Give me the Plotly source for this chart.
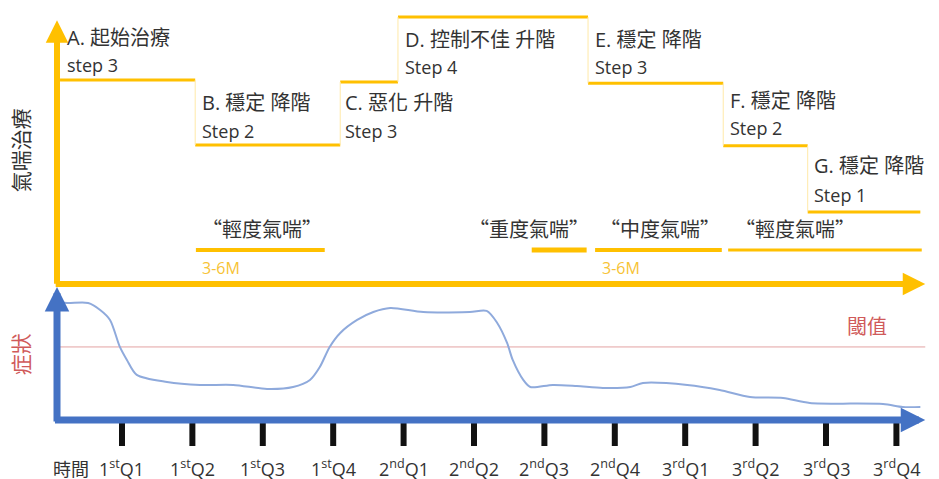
import plotly.graph_objects as go

# ---------------- data ----------------
quarters = list(range(1, 13))
quarter_labels = ["1<sup>st</sup>Q1", "1<sup>st</sup>Q2", "1<sup>st</sup>Q3", "1<sup>st</sup>Q4",
                  "2<sup>nd</sup>Q1", "2<sup>nd</sup>Q2", "2<sup>nd</sup>Q3", "2<sup>nd</sup>Q4",
                  "3<sup>rd</sup>Q1", "3<sup>rd</sup>Q2", "3<sup>rd</sup>Q3", "3<sup>rd</sup>Q4"]

# treatment steps (start quarter, end quarter, step level)
step_start = [0.12, 2.04, 4.10, 4.92, 7.62, 9.54, 10.74]
step_end = [2.04, 4.10, 4.92, 7.62, 9.54, 10.74, 12.34]
step_level = [3.03, 2.03, 3.0, 4.0, 2.98, 2.02, 1.0]
step_title = ["A. 起始治療", "B. 穩定 降階", "C. 惡化 升階", "D. 控制不佳 升階",
              "E. 穩定 降階", "F. 穩定 降階", "G. 穩定 降階"]
step_name = ["step 3", "Step 2", "Step 3", "Step 4", "Step 3", "Step 2", "Step 1"]
label_x = [0.19, 2.11, 4.14, 4.99, 7.69, 9.61, 10.80]
label_row1 = [3.69, 2.68, 2.68, 3.65, 3.65, 2.72, 1.72]
label_row2 = [3.26, 2.25, 2.25, 3.23, 3.23, 2.29, 1.26]

# severity periods
sev_label = ["“輕度氣喘”", "“重度氣喘”", "“中度氣喘”", "“輕度氣喘”"]
sev_start = [2.05, 6.82, 7.72, 9.61]
sev_end = [3.88, 7.60, 9.52, 12.36]
sev_center = [2.99, 6.78, 8.64, 10.56]
sev_width = [4, 5, 4, 3]
dur_label_x = [2.11, 7.79]
dur_label = ["3-6M", "3-6M"]

# symptom curve
sym_t = [0.12, 0.22, 0.52, 0.69, 0.83, 0.97, 1.07, 1.21, 1.64, 2.11, 2.58, 3.06, 3.43, 3.67,
         3.81, 3.95, 4.10, 4.34, 4.57, 4.81, 5.28, 5.94, 6.18, 6.33, 6.47, 6.55, 6.70, 6.80,
         7.12, 7.46, 7.83, 8.22, 8.40, 9.03, 9.49, 9.92, 10.39, 10.77, 11.81, 12.09, 12.34]
sym_v = [9.70, 9.61, 9.61, 9.04, 8.22, 6.00, 4.93, 3.70, 3.12, 2.88, 2.88, 2.55, 2.71, 3.29,
         4.35, 6.00, 7.15, 8.22, 8.87, 9.20, 8.87, 8.87, 8.96, 7.97, 6.33, 4.93, 3.29, 2.71,
         2.88, 2.79, 2.63, 2.71, 3.04, 2.88, 2.47, 1.89, 1.81, 1.40, 1.31, 1.07, 1.07]
threshold = 6.0

# ---------------- styling constants ----------------
YEL = "#FFC000"
BLUE = "#4472C4"
RED = "#D05A5A"
TXT = "#333333"
CJK = "Noto Sans CJK TC"
LAT = "Open Sans, Noto Sans CJK TC"

x0, x_tip = 0.077, 12.41
top_base, top_tip = -0.108, 3.95
bot_base, bot_tip = 0.0, 10.93
tick_top, tick_bot, tick_lab = -0.16, -2.14, -3.94

fig = go.Figure()

# step horizontal segments
for s, e, l in zip(step_start, step_end, step_level):
    fig.add_trace(go.Scatter(x=[s, e], y=[l, l], mode="lines",
                             line=dict(color=YEL, width=3), hoverinfo="skip"))
# faint vertical connectors
for i in range(1, len(step_start)):
    fig.add_trace(go.Scatter(x=[step_start[i], step_start[i]],
                             y=[step_level[i - 1], step_level[i]], mode="lines",
                             line=dict(color="#FFE9A8", width=1), hoverinfo="skip"))

# severity bars
for s, e, w in zip(sev_start, sev_end, sev_width):
    fig.add_trace(go.Scatter(x=[s, e], y=[0.415, 0.415], mode="lines",
                             line=dict(color=YEL, width=w), hoverinfo="skip"))

# threshold line
fig.add_trace(go.Scatter(x=[x0, x_tip], y=[threshold, threshold], yaxis="y2", mode="lines",
                         line=dict(color="#E3A3A3", width=1), hoverinfo="skip"))

# symptom curve
fig.add_trace(go.Scatter(x=sym_t, y=sym_v, yaxis="y2", mode="lines",
                         line=dict(color="#8FAADC", width=2, shape="spline", smoothing=0.8),
                         hoverinfo="skip"))

# ticks
tx, ty = [], []
for q in quarters:
    tx += [q, q, None]
    ty += [tick_top, tick_bot, None]
fig.add_trace(go.Scatter(x=tx, y=ty, yaxis="y2", mode="lines",
                         line=dict(color="#111111", width=6), hoverinfo="skip"))

ann = []
# axis arrows
ann.append(dict(x=x0, y=top_tip, ax=x0, ay=top_base - 0.02, xref="x", yref="y", axref="x", ayref="y",
                text="", showarrow=True, arrowhead=2, arrowsize=0.75, arrowwidth=6, arrowcolor=YEL, standoff=0))
ann.append(dict(x=x_tip, y=top_base, ax=x0 - 0.04, ay=top_base, xref="x", yref="y", axref="x", ayref="y",
                text="", showarrow=True, arrowhead=2, arrowsize=0.75, arrowwidth=6, arrowcolor=YEL, standoff=0))
ann.append(dict(x=x0, y=bot_tip, ax=x0, ay=bot_base - 0.25, xref="x", yref="y2", axref="x", ayref="y2",
                text="", showarrow=True, arrowhead=2, arrowsize=0.7, arrowwidth=7, arrowcolor=BLUE, standoff=0))
ann.append(dict(x=x_tip, y=bot_base, ax=x0 - 0.05, ay=bot_base, xref="x", yref="y2", axref="x", ayref="y2",
                text="", showarrow=True, arrowhead=2, arrowsize=0.7, arrowwidth=7, arrowcolor=BLUE, standoff=0))

# step labels
for x, r1, r2, t, n in zip(label_x, label_row1, label_row2, step_title, step_name):
    ann.append(dict(x=x, y=r1, xref="x", yref="y", text=t, showarrow=False, xanchor="left",
                    yanchor="middle", font=dict(family=LAT, size=20, color=TXT)))
    ann.append(dict(x=x, y=r2, xref="x", yref="y", text=n, showarrow=False, xanchor="left",
                    yanchor="middle", font=dict(family=LAT, size=18, color=TXT)))

# severity labels
for c, t in zip(sev_center, sev_label):
    ann.append(dict(x=c, y=0.739, xref="x", yref="y", text=t, showarrow=False, xanchor="center",
                    yanchor="middle", font=dict(family=CJK, size=20, color=TXT)))
for x, t in zip(dur_label_x, dur_label):
    ann.append(dict(x=x, y=0.139, xref="x", yref="y", text=t, showarrow=False, xanchor="left",
                    yanchor="middle", font=dict(family=LAT, size=16, color="#F7C335")))

# tick labels
for q, t in zip(quarters, quarter_labels):
    ann.append(dict(x=q, y=tick_lab, xref="x", yref="y2", text=t, showarrow=False, xanchor="center",
                    yanchor="middle", font=dict(family=LAT, size=18, color=TXT)))
ann.append(dict(x=0.27, y=tick_lab, xref="x", yref="y2", text="時間", showarrow=False, xanchor="center",
                yanchor="middle", font=dict(family=CJK, size=18, color=TXT)))

# axis titles
ann.append(dict(x=-0.45, y=1.95, xref="x", yref="y", text="氣喘治療", showarrow=False, textangle=-90,
                font=dict(family=CJK, size=21, color=TXT)))
ann.append(dict(x=-0.45, y=5.4, xref="x", yref="y2", text="症狀", showarrow=False, textangle=-90,
                font=dict(family=CJK, size=21, color=RED)))
ann.append(dict(x=11.58, y=7.8, xref="x", yref="y2", text="閾值", showarrow=False,
                font=dict(family=CJK, size=20, color=RED)))

# page body has an 8px margin: figure occupies window pixels 8..939 / 8..479
fig.update_layout(
    width=931, height=471,
    margin=dict(l=0, r=0, t=0, b=0),
    paper_bgcolor="white", plot_bgcolor="white",
    showlegend=False,
    xaxis=dict(range=[-0.619, 12.605], visible=False, fixedrange=True),
    yaxis=dict(range=[-3.108, 4.139], visible=False, fixedrange=True),
    yaxis2=dict(range=[-4.85, 33.85], visible=False, overlaying="y", fixedrange=True),
    annotations=ann,
)

fig.write_html("out.html")
